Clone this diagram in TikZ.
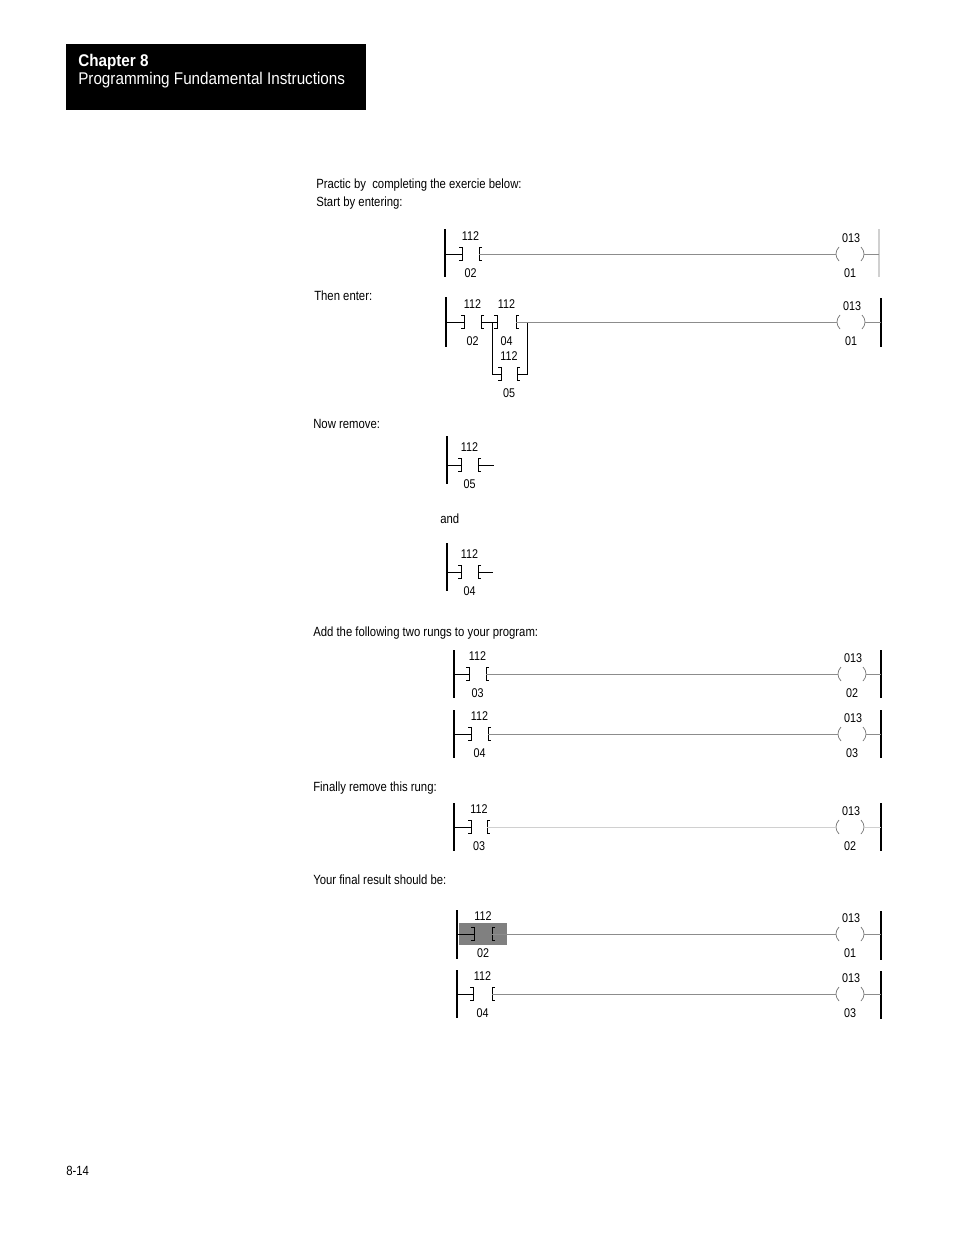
\documentclass[tikz,border=0pt]{standalone}
\usepackage{fontspec}
\setmainfont{Liberation Sans}[FakeStretch=0.85]
\newfontfamily\headfont{Liberation Sans}[FakeStretch=0.9]
\definecolor{wiregray}{HTML}{8C8C8C}
\definecolor{lightwire}{HTML}{D0D0D0}
\definecolor{parengray}{HTML}{7A7A7A}
\definecolor{hlgray}{HTML}{808080}
\tikzset{
 railst/.style={line width=1.1pt,black},
 brk/.style={line width=0.75pt,black},
 wire/.style={line width=0.75pt,black},
 gwire/.style={line width=0.7pt,color=wiregray},
 lwire/.style={line width=0.7pt,color=lightwire},
 lrail/.style={line width=1.1pt,color=lightwire},
 paren/.style={line width=0.55pt,color=parengray},
 lbl/.style={font=\fontsize{9.5}{10}\selectfont,inner sep=0pt},
 txt/.style={font=\fontsize{10}{12}\selectfont,inner sep=0pt,anchor=base west},
}
% contact: name, x of ], x of [, y, top label, bottom label
\newcommand\contact[6]{%
 \draw[brk] ({#2-3},{#4-7}) -- (#2,{#4-7}) -- (#2,{#4+6}) -- ({#2-3},{#4+6});
 \draw[brk] ({#3+3},{#4-7}) -- (#3,{#4-7}) -- (#3,{#4+6}) -- ({#3+3},{#4+6});
 \node[lbl] (#1t) at ({(#2+#3)/2},{#4-18}) {#5};
 \node[lbl] (#1b) at ({(#2+#3)/2},{#4+19}) {#6};
 \coordinate (#1L) at (#2,#4);
 \coordinate (#1R) at (#3,#4);
}
% coil: name, x of (, x of ), y, top label, bottom label
\newcommand\coil[6]{%
 \draw[paren] ({#2+3},{#4-7}) .. controls ({#2-1},{#4-3}) and ({#2-1},{#4+3}) .. ({#2+3},{#4+7});
 \draw[paren] ({#3-3},{#4-7}) .. controls ({#3+1},{#4-3}) and ({#3+1},{#4+3}) .. ({#3-3},{#4+7});
 \node[lbl] (#1t) at ({(#2+#3)/2+1},{#4-16}) {#5};
 \node[lbl] (#1b) at ({(#2+#3)/2},{#4+19}) {#6};
 \coordinate (#1L) at (#2,#4);
 \coordinate (#1R) at (#3,#4);
}
% rail: name, x, ytop, ybottom, y of rung, style
\newcommand\rail[6]{%
 \draw[#6] (#2,#3) -- (#2,#4);
 \coordinate (#1) at (#2,#5);
}
\begin{document}
\begin{tikzpicture}[x=0.75pt,y=-0.75pt]
\useasboundingbox (0,0) rectangle (954,1235);
\fill[white] (0,0) rectangle (954,1235);

% header
\fill[black] (66,44) rectangle (366,110);
\node[anchor=base west,inner sep=0pt,text=white,font=\headfont\fontsize{12.7}{14}\selectfont\bfseries] (chap) at (78,66) {Chapter 8};
\node[anchor=base west,inner sep=0pt,text=white,font=\headfont\fontsize{12.7}{14}\selectfont] (title) at (78,84) {Programming Fundamental Instructions};

% texts
\node[txt] (t1) at (316,188) {Practic by~ completing the exercie below:};
\node[txt] (t2) at (316,206) {Start by entering:};
\node[txt] (t3) at (314,300) {Then enter:};
\node[txt] (t4) at (313,428) {Now remove:};
\node[txt] (t5) at (440,523) {and};
\node[txt] (t6) at (313,636) {Add the following two rungs to your program:};
\node[txt] (t7) at (313,791) {Finally remove this rung:};
\node[txt] (t8) at (313,884) {Your final result should be:};
\node[txt] (pg) at (66,1175) {8-14};

% rung 1
\rail{r1L}{445}{229}{277}{254}{railst}
\rail{r1R}{879}{229}{277}{254}{lrail}
\contact{a1}{462}{479}{254}{112}{02}
\coil{k1}{836}{864}{254}{013}{01}
\draw[wire] (r1L) -- (a1L);
\draw[gwire] (a1R) -- (k1L);
\draw[gwire] (k1R) -- (r1R);

% rung 2
\rail{r2L}{446}{297}{347}{322}{railst}
\rail{r2R}{881}{298}{347}{322}{railst}
\contact{b1}{464}{481}{322}{112}{02}
\contact{b2}{497}{516}{322}{112}{04}
\contact{b3}{501}{517}{374}{112}{05}
\coil{k2}{837}{865}{322}{013}{01}
\coordinate (b2j) at (492,322);
\coordinate (b3j) at (527,322);
\draw[wire] (r2L) -- (b1L);
\draw[wire] (b1R) -- (b2L);
\draw[wire] (b2j) |- (b3L);
\draw[wire] (b3R) -| (b3j);
\draw[gwire] (b2R) -- (k2L);
\draw[gwire] (k2R) -- (r2R);

% now remove
\rail{r3L}{447}{436}{484}{465}{railst}
\contact{c1}{461}{478}{465}{112}{05}
\coordinate (c1e) at (494,465);
\draw[wire] (r3L) -- (c1L);
\draw[wire] (c1R) -- (c1e);

% and
\rail{r4L}{447}{543}{591}{572}{railst}
\contact{d1}{461}{478}{572}{112}{04}
\coordinate (d1e) at (493,572);
\draw[wire] (r4L) -- (d1L);
\draw[wire] (d1R) -- (d1e);

% add rung A
\rail{r5L}{454}{650}{698}{674}{railst}
\rail{r5R}{881}{650}{698}{674}{railst}
\contact{e1}{469}{486}{674}{112}{03}
\coil{k5}{838}{866}{674}{013}{02}
\draw[wire] (r5L) -- (e1L);
\draw[gwire] (e1R) -- (k5L);
\draw[gwire] (k5R) -- (r5R);

% add rung B
\rail{r6L}{454}{710}{758}{734}{railst}
\rail{r6R}{881}{710}{758}{734}{railst}
\contact{f1}{471}{488}{734}{112}{04}
\coil{k6}{838}{866}{734}{013}{03}
\draw[wire] (r6L) -- (f1L);
\draw[gwire] (f1R) -- (k6L);
\draw[gwire] (k6R) -- (r6R);

% remove rung C
\rail{r7L}{454}{803}{851}{827}{railst}
\rail{r7R}{881}{803}{851}{827}{railst}
\contact{g1}{471}{487}{827}{112}{03}
\coil{k7}{836}{864}{827}{013}{02}
\draw[wire] (r7L) -- (g1L);
\draw[lwire] (g1R) -- (k7L);
\draw[lwire] (k7R) -- (r7R);

% final rung D
\fill[hlgray] (459,923) rectangle (507,945);
\rail{r8L}{457}{910}{959}{934}{railst}
\rail{r8R}{881}{911}{960}{934}{railst}
\contact{h1}{474}{492}{934}{112}{02}
\coil{k8}{836}{864}{934}{013}{01}
\draw[wire] (r8L) -- (h1L);
\draw[gwire] (h1R) -- (k8L);
\draw[gwire] (k8R) -- (r8R);

% final rung E
\rail{r9L}{457}{970}{1018}{994}{railst}
\rail{r9R}{881}{971}{1019}{994}{railst}
\contact{i1}{473}{492}{994}{112}{04}
\coil{k9}{836}{864}{994}{013}{03}
\draw[wire] (r9L) -- (i1L);
\draw[gwire] (i1R) -- (k9L);
\draw[gwire] (k9R) -- (r9R);
\end{tikzpicture}
\end{document}
